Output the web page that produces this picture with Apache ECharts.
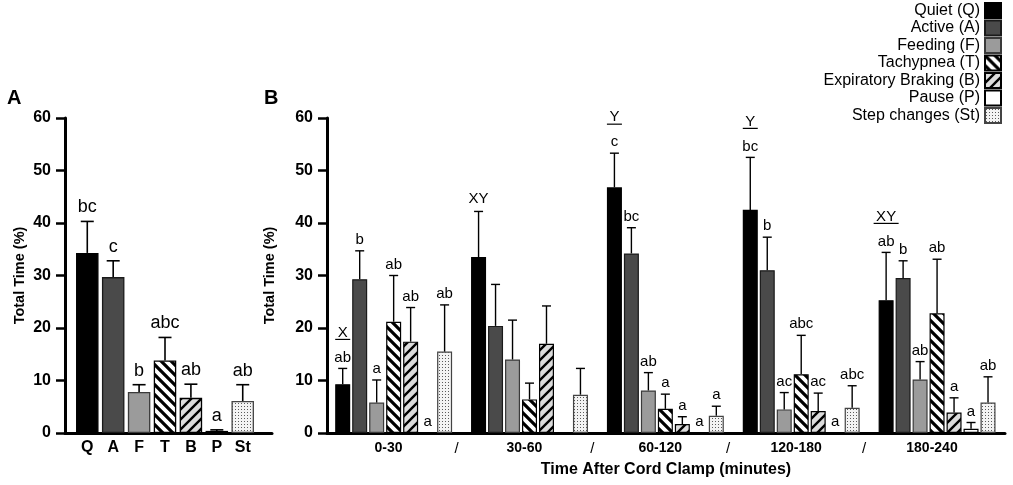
<!DOCTYPE html>
<html>
<head>
<meta charset="utf-8">
<script src="https://cdn.jsdelivr.net/npm/echarts@6/dist/echarts.min.js"></script>
<style>
  html, body { margin: 0; padding: 0; background: #fff; }
  #chart { width: 1013px; height: 485px; }
</style>
</head>
<body>
<div id="chart"></div>
<script>
// panel A: whole recording
const catsA = ['Q', 'A', 'F', 'T', 'B', 'P', 'St'];
const meanA = [34.3, 29.7, 7.8, 13.8, 6.7, 0.4, 6.1];
const semA = [6.0, 3.1, 1.4, 4.4, 2.6, 0.2, 3.1];
const lettersA = ['bc', 'c', 'b', 'abc', 'ab', 'a', 'ab'];

// panel B: per time window
const groups = ['0-30', '30-60', '60-120', '120-180', '180-240'];
const behaviours = ['Quiet (Q)', 'Active (A)', 'Feeding (F)', 'Tachypnea (T)',
  'Expiratory Braking (B)', 'Pause (P)', 'Step changes (St)'];

const quietMean = [9.3, 33.5, 46.8, 42.5, 25.3];
const quietSem = [3.0, 8.7, 6.5, 10.0, 9.1];
const quietLetters = ['ab', '', 'c', 'bc', 'ab'];

const activeMean = [29.3, 20.4, 34.2, 31.0, 29.5];
const activeSem = [5.4, 7.9, 4.9, 6.3, 3.3];
const activeLetters = ['b', '', 'bc', 'b', 'b'];

const feedingMean = [5.8, 14.0, 8.1, 4.5, 10.2];
const feedingSem = [4.3, 7.5, 3.4, 3.2, 3.4];
const feedingLetters = ['a', '', 'ab', 'ac', 'ab'];

const tachyMean = [21.2, 6.4, 4.6, 11.2, 22.8];
const tachySem = [8.8, 3.1, 2.8, 7.4, 10.3];
const tachyLetters = ['ab', '', 'a', 'abc', 'ab'];

const brakingMean = [17.4, 17.0, 1.7, 4.2, 3.9];
const brakingSem = [6.5, 7.2, 1.4, 3.4, 2.8];
const brakingLetters = ['ab', '', 'a', 'ac', 'a'];

const pauseMean = [0, null, 0, 0, 0.8];
const pauseSem = [0, null, 0, 0, 1.2];
const pauseLetters = ['a', '', 'a', 'a', 'a'];

const stepMean = [15.5, 7.3, 3.3, 4.8, 5.8];
const stepSem = [8.9, 5.0, 1.8, 4.2, 4.9];
const stepLetters = ['ab', '', 'a', 'abc', 'ab'];

const groupMarks = ['X', 'XY', 'Y', 'Y', 'XY'];
const groupMarkUnderlined = [true, false, true, true, true];

const meansB = [quietMean, activeMean, feedingMean, tachyMean, brakingMean, pauseMean, stepMean];
const semsB = [quietSem, activeSem, feedingSem, tachySem, brakingSem, pauseSem, stepSem];
const lettersB = [quietLetters, activeLetters, feedingLetters, tachyLetters, brakingLetters, pauseLetters, stepLetters];

const FONT = '"Liberation Sans", Arial, sans-serif';

function stripes(dir, bg, s, lw) {
  const c = document.createElement('canvas');
  c.width = c.height = s;
  const g = c.getContext('2d');
  g.fillStyle = bg; g.fillRect(0, 0, s, s);
  g.strokeStyle = '#000'; g.lineWidth = lw; g.beginPath();
  for (const k of [-s, 0, s]) {
    if (dir === '\\') { g.moveTo(-2, -2 + k); g.lineTo(s + 2, s + 2 + k); }
    else { g.moveTo(-2, s + 2 + k); g.lineTo(s + 2, -2 + k); }
  }
  g.stroke();
  return c;
}
function dots() {
  const c = document.createElement('canvas');
  c.width = c.height = 3;
  const g = c.getContext('2d');
  g.fillStyle = '#f3f3f3'; g.fillRect(0, 0, 3, 3);
  g.fillStyle = '#5a5a5a'; g.fillRect(1, 1, 1, 1);
  return c;
}

const fills = ['#000', '#4a4a4a', '#9b9b9b',
  { image: stripes('\\', '#fff', 10, 3.2), repeat: 'repeat' },
  { image: stripes('/', '#dcdcdc', 10, 2.4), repeat: 'repeat' },
  '#fff',
  { image: dots(), repeat: 'repeat' }];
const borders = ['#000', '#1a1a1a', '#3a3a3a', '#000', '#000', '#000', '#444'];

const measure = document.createElement('canvas').getContext('2d');
measure.font = '15px ' + FONT;

function errKids(api, capHalf, lw) {
  const x = api.value(0), m = api.value(1), e = api.value(2);
  const base = api.coord([x, m]);
  const top = api.coord([x, m + e]);
  const kids = [];
  if (e > 0) {
    kids.push({ type: 'line', shape: { x1: top[0], y1: base[1], x2: top[0], y2: top[1] },
      style: { stroke: '#000', lineWidth: lw } });
    kids.push({ type: 'line', shape: { x1: top[0] - capHalf, y1: top[1], x2: top[0] + capHalf, y2: top[1] },
      style: { stroke: '#000', lineWidth: lw } });
  }
  return { top, kids };
}

function renderA(params, api) {
  const r = errKids(api, 6.5, 1.6);
  const letter = lettersA[params.dataIndex];
  r.kids.push({ type: 'text', style: { text: letter, x: r.top[0], y: r.top[1] - 14,
    align: 'center', verticalAlign: 'middle', font: '18px ' + FONT, fill: '#000' } });
  return { type: 'group', children: r.kids };
}

function renderB(params, api) {
  const r = errKids(api, 4.5, 1.4);
  const b = api.value(3), g = api.value(4);
  const letter = lettersB[b][g];
  const x = r.top[0], y = r.top[1];
  if (letter) {
    r.kids.push({ type: 'text', style: { text: letter, x, y: y - 11,
      align: 'center', verticalAlign: 'middle', font: '15px ' + FONT, fill: '#000' } });
  }
  if (b === 0 && groupMarks[g]) {
    const my = letter ? y - 36 : y - 13;
    r.kids.push({ type: 'text', style: { text: groupMarks[g], x, y: my,
      align: 'center', verticalAlign: 'middle', font: '15px ' + FONT, fill: '#000' } });
    if (groupMarkUnderlined[g]) {
      const w = measure.measureText(groupMarks[g]).width + 5;
      r.kids.push({ type: 'line', shape: { x1: x - w / 2, y1: my + 7, x2: x + w / 2, y2: my + 7 },
        style: { stroke: '#000', lineWidth: 1.2 } });
    }
  }
  return { type: 'group', children: r.kids };
}

const errDataB = [];
meansB.forEach((arr, b) => arr.forEach((v, g) => {
  if (v != null) errDataB.push([g * 8 + b, v, semsB[b][g], b, g]);
}));

const yAxisBase = {
  type: 'value', min: 0, max: 60, interval: 10,
  name: 'Total Time (%)', nameLocation: 'middle', nameRotate: 90,
  nameTextStyle: { fontSize: 14.5, fontWeight: 'bold', color: '#000', fontFamily: FONT },
  axisLine: { show: true, onZero: false, lineStyle: { color: '#000', width: 3 } },
  axisTick: { show: true, length: 9, lineStyle: { color: '#000', width: 2.5 } },
  axisLabel: { fontSize: 16, fontWeight: 'bold', color: '#000', fontFamily: FONT, margin: 14 },
  splitLine: { show: false }
};

const option = {
  animation: false,
  backgroundColor: '#fff',
  title: [
    { text: 'A', left: 7, top: 88, padding: 0, textStyle: { fontSize: 20, fontWeight: 'bold', color: '#000', fontFamily: FONT } },
    { text: 'B', left: 264, top: 88, padding: 0, textStyle: { fontSize: 20, fontWeight: 'bold', color: '#000', fontFamily: FONT } }
  ],
  legend: {
    data: behaviours, orient: 'vertical', align: 'right', right: 11, top: 2, padding: 0,
    itemWidth: 16, itemHeight: 15, itemGap: 0.5, icon: 'rect',
    textStyle: { fontSize: 16, color: '#000', fontFamily: FONT },
    selectedMode: false
  },
  grid: [
    { left: 65, right: 741, top: 118, bottom: 52, containLabel: false },
    { left: 327, right: 8, top: 118, bottom: 52, containLabel: false }
  ],
  xAxis: [
    {
      type: 'value', gridIndex: 0, min: -0.86, max: 7.13,
      axisLine: { show: true, onZero: false, lineStyle: { color: '#000', width: 3 } },
      axisTick: { show: false }, splitLine: { show: false },
      axisLabel: {
        customValues: catsA.map((_, i) => i),
        formatter: v => catsA[Math.round(v)],
        fontSize: 16, fontWeight: 'bold', color: '#000', fontFamily: FONT, margin: 7
      }
    },
    {
      type: 'value', gridIndex: 1, min: -0.925, max: 39,
      name: 'Time After Cord Clamp (minutes)', nameLocation: 'middle', nameGap: 29,
      nameTextStyle: { fontSize: 16, fontWeight: 'bold', color: '#000', fontFamily: FONT },
      axisLine: { show: true, onZero: false, lineStyle: { color: '#000', width: 3 } },
      axisTick: { show: false }, splitLine: { show: false },
      axisLabel: {
        customValues: groups.map((_, g) => g * 8 + 2.7).concat([0, 1, 2, 3].map(g => g * 8 + 6.7)),
        formatter: v => {
          const g = (v - 2.7) / 8;
          if (Math.abs(g - Math.round(g)) < 1e-6) return groups[Math.round(g)];
          return '{s|/}';
        },
        fontSize: 14, fontWeight: 'bold', color: '#000', fontFamily: FONT, margin: 8,
        rich: { s: { fontSize: 15, fontWeight: 'normal', color: '#000', fontFamily: FONT, padding: [0, 0, 3, 0] } }
      }
    }
  ],
  yAxis: [
    Object.assign({}, yAxisBase, { gridIndex: 0, nameGap: 38 }),
    Object.assign({}, yAxisBase, { gridIndex: 1, nameGap: 50 })
  ],
  series: [
    {
      type: 'bar', name: 'panelA', xAxisIndex: 0, yAxisIndex: 0, barWidth: 22.5,
      data: catsA.map((c, i) => ({
        value: [i, meanA[i]],
        itemStyle: { color: fills[i], borderColor: borders[i], borderWidth: 1.3 }
      }))
    },
    {
      type: 'custom', name: 'errA', xAxisIndex: 0, yAxisIndex: 0, z: 5,
      encode: { x: 0, y: 1 }, renderItem: renderA,
      data: meanA.map((v, i) => [i, v, semA[i]])
    }
  ].concat(behaviours.map((name, b) => ({
    type: 'bar', name, xAxisIndex: 1, yAxisIndex: 1, barWidth: 15, barGap: '-100%',
    itemStyle: { color: fills[b], borderColor: borders[b], borderWidth: 1.2 },
    data: meansB[b].map((v, g) => (v ? [g * 8 + b, v] : null)).filter(d => d)
  }))).concat([{
    type: 'custom', name: 'errB', xAxisIndex: 1, yAxisIndex: 1, z: 5,
    encode: { x: 0, y: 1 }, renderItem: renderB, data: errDataB
  }])
};

const chart = echarts.init(document.getElementById('chart'));
chart.setOption(option);
</script>
</body>
</html>
